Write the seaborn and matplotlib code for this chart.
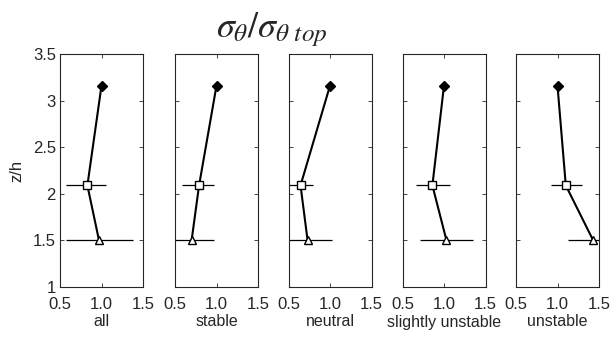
import matplotlib
matplotlib.use('Agg')
import matplotlib.pyplot as plt
import numpy as np
import pandas as pd
import seaborn as sns

sns.set_style('ticks')
plt.rcParams['font.family'] = ['Liberation Sans', 'DejaVu Sans']
plt.rcParams['mathtext.fontset'] = 'stix'

# heights (z/h) of the three levels
z_levels = [1.5, 2.09, 3.16]
groups = ['all', 'stable', 'neutral', 'slightly unstable', 'unstable']
# sigma_theta / sigma_theta_top at each level (bottom, middle, top)
ratio = {
    'all':               [0.97, 0.83, 1.00],
    'stable':            [0.70, 0.79, 1.00],
    'neutral':           [0.73, 0.645, 1.00],
    'slightly unstable': [1.03, 0.86, 1.00],
    'unstable':          [1.43, 1.10, 1.00],
}
# error bar ends for the two lower levels
err_lo = {
    'all':               [0.57, 0.57],
    'stable':            [0.45, 0.59],
    'neutral':           [0.45, 0.45],
    'slightly unstable': [0.71, 0.665],
    'unstable':          [1.13, 0.92],
}
err_hi = {
    'all':               [1.38, 1.05],
    'stable':            [0.97, 0.97],
    'neutral':           [1.03, 0.79],
    'slightly unstable': [1.35, 1.07],
    'unstable':          [1.55, 1.30],
}
markers = ['^', 's', 'D']

fig = plt.figure(figsize=(6.11, 3.38), dpi=100)
lefts = [60, 175, 288.5, 402.5, 516]
W, H = 611, 338
for i, g in enumerate(groups):
    ax = fig.add_axes([lefts[i] / W, 1 - 287 / H, 83 / W, 233 / H])
    df = pd.DataFrame({'x': ratio[g], 'z': z_levels})
    sns.lineplot(data=df, x='x', y='z', sort=False, orient='y', estimator=None,
                 color='black', lw=1.5, ax=ax)
    ax.hlines(z_levels[:2], err_lo[g], err_hi[g], color='black', lw=0.9)
    for k in range(3):
        if markers[k] == 'D':
            ax.plot(ratio[g][k], z_levels[k], marker='D', ms=5, color='black')
        else:
            ax.plot(ratio[g][k], z_levels[k], marker=markers[k], ms=5.5,
                    mfc='white', mec='black', mew=1.0, color='black')
    ax.set_xlim(0.5, 1.5)
    ax.set_ylim(1, 3.5)
    ax.set_xticks([0.5, 1.0, 1.5])
    ax.set_xticklabels(['0.5', '1.0', '1.5'])
    ax.set_yticks([1, 1.5, 2, 2.5, 3, 3.5])
    if i == 0:
        ax.set_yticklabels(['1', '1.5', '2', '2.5', '3', '3.5'])
        ax.set_ylabel('z/h', fontsize=12, labelpad=6)
    else:
        ax.set_yticklabels([])
        ax.set_ylabel('')
    ax.set_xlabel(g, fontsize=11.5, labelpad=2)
    ax.tick_params(direction='in', top=True, right=True, length=3, width=0.6,
                   labelsize=12, pad=3)
    ax.tick_params(axis='x', pad=7)
    for s in ax.spines.values():
        s.set_linewidth(0.8)
        s.set_visible(True)

fig.text(272 / W, 1 - 30 / H, r'$\sigma_\theta/\sigma_{\theta\ top}$',
         fontsize=26, ha='center', va='center')
fig.savefig('out.png', dpi=100)
